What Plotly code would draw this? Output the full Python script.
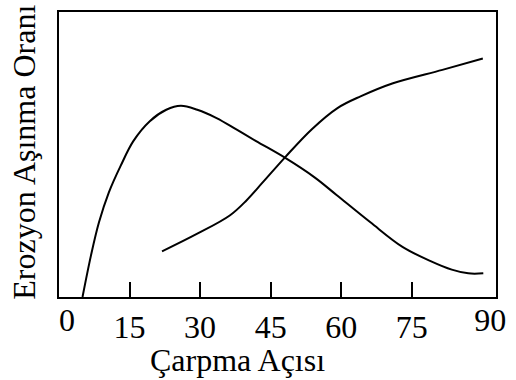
import plotly.graph_objects as go

# Curve 1 (ductile-type): erosion rate vs impact angle
x1 = [5.0, 6.8, 8.5, 10.6, 13.1, 15.8, 19.3, 22.8, 25.9, 29.4, 33.5, 37.7, 41.9, 48.1, 54.4, 59.0, 66.2, 73.1, 79.0, 83.5, 87.0, 90.2]
y1 = [0.0, 14.6, 26.2, 36.7, 46.0, 54.7, 61.7, 65.7, 67.1, 65.7, 62.8, 58.8, 54.7, 48.8, 41.9, 35.8, 26.2, 17.5, 12.6, 9.6, 8.3, 8.3]

# Curve 2 (brittle-type)
x2 = [21.9, 29.4, 36.3, 39.8, 43.3, 48.1, 53.7, 59.2, 64.1, 71.0, 81.5, 90.1]
y2 = [16.0, 22.2, 28.6, 33.8, 40.2, 49.1, 58.8, 66.3, 70.4, 75.0, 79.7, 83.7]

main_ticks = [15, 30, 45, 60, 75]
edge_ticks = [0, 90]
x_title = "Çarpma Açısı"
y_title = "Erozyon Aşınma Oranı"

FONT = "Liberation Serif"
FS = 32

fig = go.Figure()
for xs, ys in ((x1, y1), (x2, y2)):
    fig.add_trace(go.Scatter(x=xs, y=ys, mode="lines",
                             line=dict(color="black", width=2, shape="spline", smoothing=1.0),
                             showlegend=False, hoverinfo="skip"))

XR = [0, 92.9]
fig.update_layout(
    width=516, height=380,
    margin=dict(l=59, r=11, t=10, b=83),
    paper_bgcolor="white", plot_bgcolor="white",
    font=dict(family=FONT, color="black", size=FS),
    xaxis=dict(range=XR, tickvals=main_ticks, ticks="inside", ticklen=15, tickwidth=1.5,
               tickcolor="black", showgrid=False, zeroline=False, showline=True,
               linecolor="black", linewidth=2, mirror=True, ticklabelstandoff=1,
               tickfont=dict(family=FONT, size=FS, color="black")),
    xaxis2=dict(range=XR, overlaying="x", side="bottom", tickvals=edge_ticks, ticks="",
                ticklabelshift=8, ticklabelstandoff=1, showgrid=False, zeroline=False, showline=False,
                tickfont=dict(family=FONT, size=FS, color="black")),
    yaxis=dict(range=[0, 100], showticklabels=False, ticks="", showgrid=False,
               zeroline=False, showline=True, linecolor="black", linewidth=2, mirror=True),
    annotations=[
        dict(text=x_title, xref="paper", yref="paper", x=0.409, y=-0.222,
             xanchor="center", yanchor="middle", showarrow=False,
             font=dict(family=FONT, size=FS, color="black")),
        dict(text=y_title, xref="paper", yref="paper", x=-0.0807, y=0.5087,
             xanchor="center", yanchor="middle", textangle=-90, showarrow=False,
             font=dict(family=FONT, size=FS, color="black")),
    ],
)
fig.add_trace(go.Scatter(x=[None], y=[None], xaxis="x2", showlegend=False, hoverinfo="skip"))

fig.write_html("out.html")
